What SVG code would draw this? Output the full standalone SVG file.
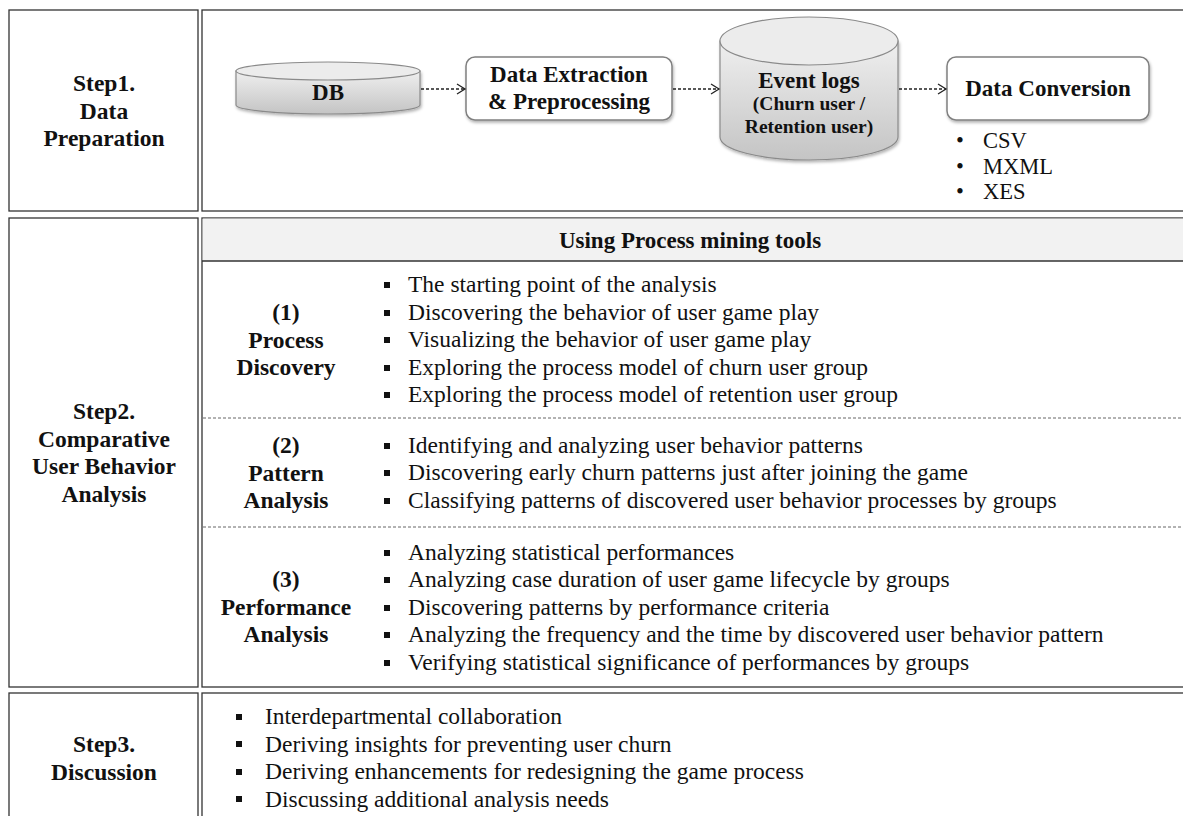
<svg xmlns="http://www.w3.org/2000/svg" width="1183" height="816" viewBox="0 0 1183 816" font-family="'Liberation Serif', Tinos, 'Times New Roman', serif">
<style>
.cell{fill:#fff;stroke:#333;stroke-width:1.3}
.lbl{font-family:'Liberation Serif',Tinos,'Times New Roman',serif;font-weight:bold;font-size:23.5px;fill:#111;text-anchor:middle}
.top{font-size:23px}
.sub{font-size:19.5px}
.itm{font-family:'Liberation Serif',Tinos,'Times New Roman',serif;font-size:23.5px;fill:#111}
.fmt{font-size:22.5px}
.sq{fill:#111}
.sep{stroke:#666;stroke-width:1;stroke-dasharray:3 2;fill:none}
.arr{stroke:#222;stroke-width:1.3;stroke-dasharray:3 2;fill:none;marker-end:url(#ah)}
.box{fill:#fff;stroke:#808080;stroke-width:1.5}
.cyl{fill:url(#cg);stroke:#8a8a8a;stroke-width:1.2}
.cyltop{fill:#ececec;stroke:#8a8a8a;stroke-width:1.2}
</style>
<defs>
<linearGradient id="cg" x1="0" y1="0" x2="0" y2="1">
<stop offset="0" stop-color="#efefef"/>
<stop offset="1" stop-color="#c4c4c4"/>
</linearGradient>
<filter id="sh" x="-10%" y="-10%" width="120%" height="130%">
<feDropShadow dx="1" dy="2" stdDeviation="1.5" flood-color="#000" flood-opacity="0.3"/>
</filter>
<marker id="ah" markerWidth="12" markerHeight="12" refX="10" refY="6" orient="auto" markerUnits="userSpaceOnUse">
<path d="M2,1 L10,6 L2,11" fill="none" stroke="#222" stroke-width="1.3"/>
</marker>
</defs>
<rect width="1183" height="816" fill="#fff"/>

<g id="row1-label">
<rect class="cell" x="9" y="10" width="189" height="201"/>
<text class="lbl" x="104" y="91">Step1.</text>
<text class="lbl" x="104" y="118.5">Data</text>
<text class="lbl" x="104" y="146">Preparation</text>
</g>
<g id="row1-content">
<rect class="cell" x="202" y="10" width="990" height="201"/>
</g>

<g id="db">
<path class="cyl" filter="url(#sh)" d="M236,71 L236,105 A92,9 0 0 0 420,105 L420,71 Z"/>
<ellipse class="cyltop" cx="328" cy="71" rx="92" ry="9"/>
<text class="lbl top" x="328" y="100">DB</text>
</g>
<g id="extract">
<rect class="box" filter="url(#sh)" x="466" y="57" width="206" height="63" rx="9"/>
<text class="lbl top" x="569" y="82">Data Extraction</text>
<text class="lbl top" x="569" y="109">&amp; Preprocessing</text>
</g>
<g id="eventlogs">
<path class="cyl" filter="url(#sh)" d="M720,41 L720,137 A89,23 0 0 0 898,137 L898,41 Z"/>
<ellipse class="cyltop" cx="809" cy="41" rx="89" ry="24"/>
<text class="lbl top" x="809" y="88">Event logs</text>
<text class="lbl sub" x="809" y="110">(Churn user /</text>
<text class="lbl sub" x="809" y="133">Retention user)</text>
</g>
<g id="conversion">
<rect class="box" filter="url(#sh)" x="947" y="57" width="202" height="63" rx="9"/>
<text class="lbl top" x="1048" y="96">Data Conversion</text>
<text class="itm fmt" x="956" y="148">•</text><text class="itm fmt" x="983" y="148">CSV</text>
<text class="itm fmt" x="956" y="174">•</text><text class="itm fmt" x="983" y="174">MXML</text>
<text class="itm fmt" x="956" y="199">•</text><text class="itm fmt" x="983" y="199">XES</text>
</g>

<g id="connectors">
<line class="arr" x1="421" y1="89" x2="465" y2="89"/>
<line class="arr" x1="673" y1="89" x2="719" y2="89"/>
<line class="arr" x1="899" y1="89" x2="946" y2="89"/>
</g>

<g id="row2-label">
<rect class="cell" x="9" y="218" width="189" height="469"/>
<text class="lbl" x="104" y="419">Step2.</text>
<text class="lbl" x="104" y="446.5">Comparative</text>
<text class="lbl" x="104" y="474">User Behavior</text>
<text class="lbl" x="104" y="501.5">Analysis</text>
</g>
<g id="row2-content">
<rect class="cell" x="202" y="218" width="990" height="469"/>
<rect x="202.6" y="218.6" width="989" height="42.4" fill="#f2f2f2"/>
<line x1="202" y1="261" x2="1183" y2="261" stroke="#333" stroke-width="1.3"/>
<text class="lbl top" x="690" y="248">Using Process mining tools</text>
<line class="sep" x1="203" y1="418" x2="1183" y2="418"/>
<line class="sep" x1="203" y1="527" x2="1183" y2="527"/>
</g>

<g id="process-discovery">
<text class="lbl" x="286" y="320">(1)</text>
<text class="lbl" x="286" y="347.5">Process</text>
<text class="lbl" x="286" y="375">Discovery</text>
<rect class="sq" x="384" y="282" width="6" height="6"/><text class="itm" x="408" y="292">The starting point of the analysis</text>
<rect class="sq" x="384" y="310" width="6" height="6"/><text class="itm" x="408" y="320">Discovering the behavior of user game play</text>
<rect class="sq" x="384" y="337" width="6" height="6"/><text class="itm" x="408" y="347">Visualizing the behavior of user game play</text>
<rect class="sq" x="384" y="365" width="6" height="6"/><text class="itm" x="408" y="375">Exploring the process model of churn user group</text>
<rect class="sq" x="384" y="392" width="6" height="6"/><text class="itm" x="408" y="402">Exploring the process model of retention user group</text>
</g>

<g id="pattern-analysis">
<text class="lbl" x="286" y="453">(2)</text>
<text class="lbl" x="286" y="480.5">Pattern</text>
<text class="lbl" x="286" y="508">Analysis</text>
<rect class="sq" x="384" y="443" width="6" height="6"/><text class="itm" x="408" y="453">Identifying and analyzing user behavior patterns</text>
<rect class="sq" x="384" y="470" width="6" height="6"/><text class="itm" x="408" y="480">Discovering early churn patterns just after joining the game</text>
<rect class="sq" x="384" y="498" width="6" height="6"/><text class="itm" x="408" y="508">Classifying patterns of discovered user behavior processes by groups</text>
</g>

<g id="performance-analysis">
<text class="lbl" x="286" y="587">(3)</text>
<text class="lbl" x="286" y="614.5">Performance</text>
<text class="lbl" x="286" y="642">Analysis</text>
<rect class="sq" x="384" y="550" width="6" height="6"/><text class="itm" x="408" y="560">Analyzing statistical performances</text>
<rect class="sq" x="384" y="577" width="6" height="6"/><text class="itm" x="408" y="587">Analyzing case duration of user game lifecycle by groups</text>
<rect class="sq" x="384" y="605" width="6" height="6"/><text class="itm" x="408" y="615">Discovering patterns by performance criteria</text>
<rect class="sq" x="384" y="632" width="6" height="6"/><text class="itm" x="408" y="642">Analyzing the frequency and the time by discovered user behavior pattern</text>
<rect class="sq" x="384" y="660" width="6" height="6"/><text class="itm" x="408" y="670">Verifying statistical significance of performances by groups</text>
</g>

<g id="row3-label">
<rect class="cell" x="9" y="693" width="189" height="140"/>
<text class="lbl" x="104" y="752">Step3.</text>
<text class="lbl" x="104" y="779.5">Discussion</text>
</g>
<g id="row3-content">
<rect class="cell" x="202" y="693" width="990" height="140"/>
<rect class="sq" x="236" y="714" width="6" height="6"/><text class="itm" x="265" y="724">Interdepartmental collaboration</text>
<rect class="sq" x="236" y="741" width="6" height="6"/><text class="itm" x="265" y="751.5">Deriving insights for preventing user churn</text>
<rect class="sq" x="236" y="769" width="6" height="6"/><text class="itm" x="265" y="779">Deriving enhancements for redesigning the game process</text>
<rect class="sq" x="236" y="796" width="6" height="6"/><text class="itm" x="265" y="806.5">Discussing additional analysis needs</text>
</g>
</svg>
